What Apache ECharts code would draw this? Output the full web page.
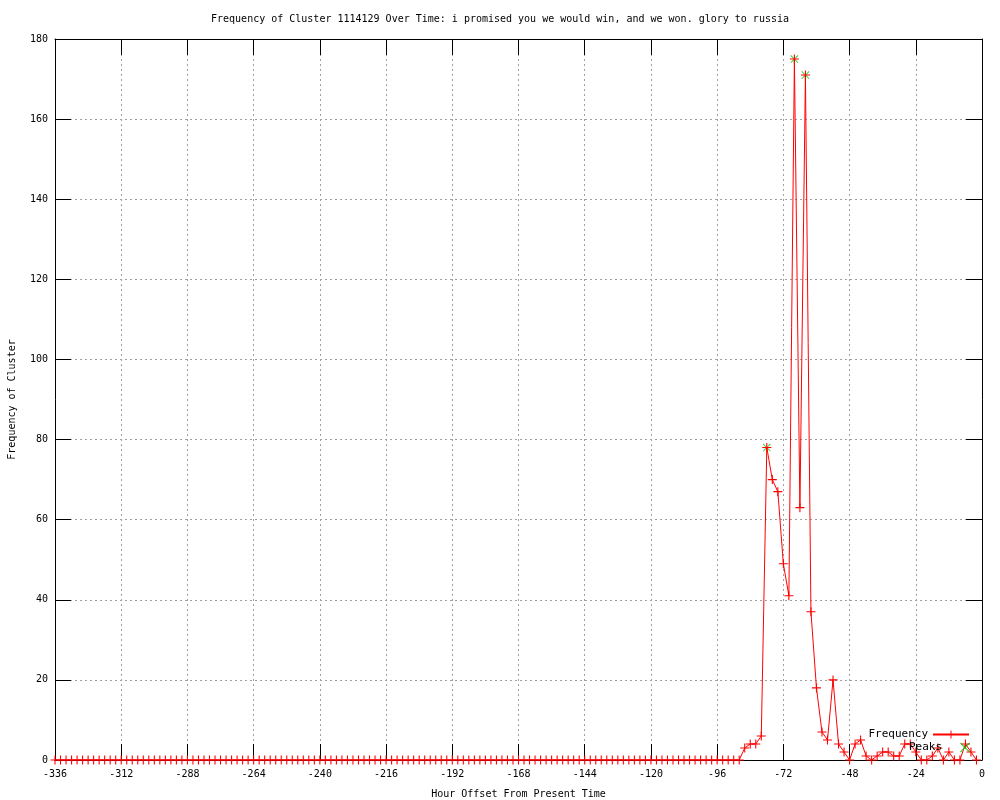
<!DOCTYPE html>
<html>
<head>
<meta charset="utf-8">
<script src="https://cdn.jsdelivr.net/npm/echarts@6/dist/echarts.min.js"></script>
<style>html,body{margin:0;padding:0;background:#fff;}#c{width:1000px;height:800px;}</style>
</head>
<body>
<div id="c"></div>
<script>
const titleText = 'Frequency of Cluster 1114129 Over Time: i promised you we would win, and we won. glory to russia';
const hourStart = -336;
const hourStep = 2;
// frequency values from hour -336 to hour -2, every 2 hours (125 zeros up to hour -88)
const frequency = [
  0,0,0,0,0,0,0,0,0,0, 0,0,0,0,0,0,0,0,0,0, 0,0,0,0,0,0,0,0,0,0,
  0,0,0,0,0,0,0,0,0,0, 0,0,0,0,0,0,0,0,0,0, 0,0,0,0,0,0,0,0,0,0,
  0,0,0,0,0,0,0,0,0,0, 0,0,0,0,0,0,0,0,0,0, 0,0,0,0,0,0,0,0,0,0,
  0,0,0,0,0,0,0,0,0,0, 0,0,0,0,0,0,0,0,0,0, 0,0,0,0,0,0,0,0,0,0,
  0,0,0,0,0,
  3,4,4,6,78,70,67,49,41,175,63,171,37,18,7,5,20,4,2,0,4,5,1,0,1,2,2,1,1,4,4,2,0,0,1,3,0,2,0,0,4,2,0
];
const peakHours = [-78, -68, -64];
const peakValues = [78, 175, 171];

const freqData = frequency.map((v, i) => [hourStart + i * hourStep, v]);
const peakData = peakHours.map((h, i) => [h, peakValues[i]]);

const FONT = 'DejaVu Sans Mono';
const plusPath = 'path://M4.4,0h1.2v4.4h4.4v1.2h-4.4v4.4h-1.2v-4.4h-4.4v-1.2h4.4z';
const xPath = 'path://M0.8,0L5,4.2L9.2,0L10,0.8L5.8,5L10,9.2L9.2,10L5,5.8L0.8,10L0,9.2L4.2,5L0,0.8z';

const chart = echarts.init(document.getElementById('c'), null, {renderer: 'canvas'});
const baseX = {type: 'value', min: -336, max: 0, interval: 24};
const axisLineStyle = {show: true, onZero: false, lineStyle: {color: '#000', width: 1}};
const tickStyle = {show: true, inside: true, length: 16, lineStyle: {color: '#000'}};
const gridLine = {show: true, lineStyle: {color: '#a0a0a0', type: [2, 3], width: 1}};
chart.setOption({
  animation: false,
  backgroundColor: '#ffffff',
  title: {
    text: titleText, left: 'center', top: 9,
    textStyle: {fontFamily: FONT, fontSize: 10, fontWeight: 'normal', color: '#000'}
  },
  legend: [{
    data: ['Frequency'], right: 30, top: 729, align: 'right',
    itemWidth: 36, itemHeight: 10, padding: 0,
    textStyle: {fontFamily: FONT, fontSize: 11, color: '#000'}
  }, {
    data: ['Peaks'], right: 30, top: 742, align: 'right',
    itemWidth: 36, itemHeight: 10, padding: 0,
    textStyle: {fontFamily: FONT, fontSize: 11, color: '#000'}
  }],
  grid: {left: 55, right: 18, top: 39, bottom: 40, containLabel: false, outerBoundsMode: 'none'},
  xAxis: [Object.assign({}, baseX, {
    position: 'bottom',
    name: 'Hour Offset From Present Time', nameLocation: 'middle', nameGap: 29,
    nameTextStyle: {fontFamily: FONT, fontSize: 10, color: '#000'},
    axisLine: axisLineStyle, axisTick: tickStyle,
    axisLabel: {fontFamily: FONT, fontSize: 10, color: '#000', margin: 9},
    splitLine: gridLine
  }), Object.assign({}, baseX, {
    position: 'top',
    axisLine: axisLineStyle, axisTick: tickStyle,
    axisLabel: {show: false},
    splitLine: {show: false}
  })],
  yAxis: [{
    type: 'value', min: 0, max: 180, interval: 20, position: 'left',
    name: 'Frequency of Cluster', nameLocation: 'middle', nameGap: 38, nameRotate: 90,
    nameTextStyle: {fontFamily: FONT, fontSize: 10, color: '#000'},
    axisLine: axisLineStyle, axisTick: tickStyle,
    axisLabel: {fontFamily: FONT, fontSize: 10, color: '#000', margin: 7},
    splitLine: gridLine
  }, {
    type: 'value', min: 0, max: 180, interval: 20, position: 'right',
    axisLine: axisLineStyle, axisTick: tickStyle,
    axisLabel: {show: false},
    splitLine: {show: false}
  }],
  series: [{
    name: 'Frequency', type: 'line', data: freqData,
    xAxisIndex: 0, yAxisIndex: 0,
    symbol: plusPath, symbolSize: 9, showAllSymbol: true,
    lineStyle: {color: '#ff0000', width: 1},
    itemStyle: {color: '#ff0000'},
    emphasis: {disabled: true}, z: 3
  }, {
    name: 'Peaks', type: 'scatter', data: peakData,
    xAxisIndex: 0, yAxisIndex: 0,
    symbol: xPath, symbolSize: 8,
    itemStyle: {color: '#00c000'},
    emphasis: {disabled: true}, z: 2
  }]
});
</script>
</body>
</html>
